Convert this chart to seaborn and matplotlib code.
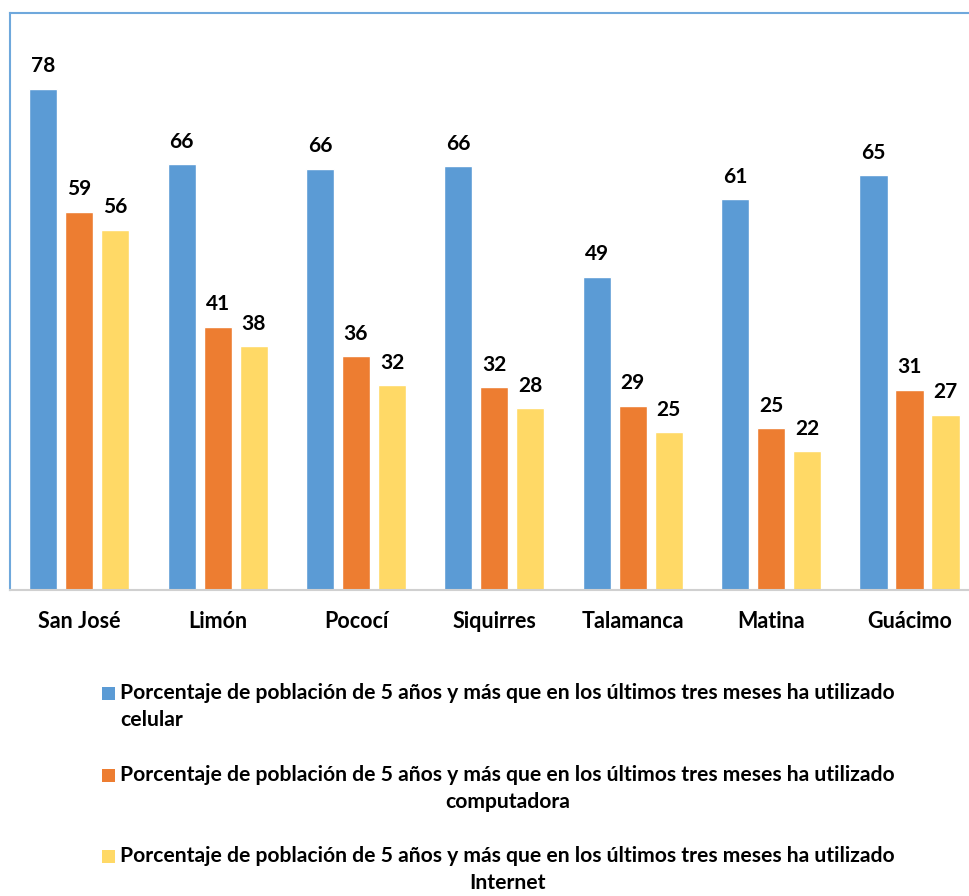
import pandas as pd
import matplotlib.pyplot as plt
from matplotlib.patches import Rectangle
import seaborn as sns

sns.set_style("white")
plt.rcParams['font.family'] = ['Lato', 'DejaVu Sans']

# data
cantones = ['San José', 'Limón', 'Pococí', 'Siquirres', 'Talamanca', 'Matina', 'Guácimo']
celular = [78.1, 66.3, 65.6, 66.0, 48.8, 60.9, 64.6]
computadora = [58.9, 41.0, 36.4, 31.6, 28.7, 25.2, 31.2]
internet = [56.1, 38.0, 31.9, 28.3, 24.6, 21.6, 27.3]

base = 'Porcentaje de población de 5 años y más que en los últimos tres meses ha utilizado'
series = [base + '\ncelular', base + '\ncomputadora', base + '\nInternet']
colors = ['#5B9BD5', '#ED7D31', '#FFD966']

df = pd.DataFrame({
    'canton': cantones * 3,
    'serie': [series[0]] * 7 + [series[1]] * 7 + [series[2]] * 7,
    'valor': celular + computadora + internet,
})

W, H = 969, 896
fig = plt.figure(figsize=(W / 100, H / 100), dpi=100)
ax = fig.add_axes([10 / W, 1 - 590 / H, 1 - 10 / W, (590 - 13) / H])

sns.barplot(data=df, x='canton', y='valor', hue='serie', palette=colors,
            saturation=1, width=0.78, gap=0.22, ax=ax, legend=False)

for cont in ax.containers:
    ax.bar_label(cont, fmt='%.0f', padding=9, fontsize=15, fontweight='bold',
                 color='black')

ax.set_xlim(-0.5, 6.43)
ax.set_ylim(0, 89.9)
ax.set_xlabel('')
ax.set_ylabel('')
ax.set_yticks([])
ax.tick_params(axis='x', length=0, pad=15, labelsize=15.5, labelcolor='black')
for lab in ax.get_xticklabels():
    lab.set_fontweight('bold')

ax.spines['right'].set_visible(False)
ax.spines['left'].set_color('#6FA8DC')
ax.spines['top'].set_color('#6FA8DC')
ax.spines['left'].set_linewidth(1.5)
ax.spines['top'].set_linewidth(1.5)
ax.spines['bottom'].set_color('#D0D0D0')
ax.spines['bottom'].set_linewidth(1.5)

# legend: square marker next to the first line of each wrapped label
first_line_y = [694, 776, 857]
aligns = ['left', 'center', 'center']
for lab, col, yy, al in zip(series, colors, first_line_y, aligns):
    fig.patches.append(Rectangle((102 / W, 1 - (yy + 6) / H), 13 / W, 13 / H,
                                 transform=fig.transFigure, facecolor=col,
                                 edgecolor='none'))
    fig.text(120 / W, 1 - (yy - 11) / H, lab, ha='left', va='top',
             multialignment=al, fontsize=15.2, fontweight='bold',
             linespacing=1.45, color='black')

fig.savefig('out.png', dpi=100)
